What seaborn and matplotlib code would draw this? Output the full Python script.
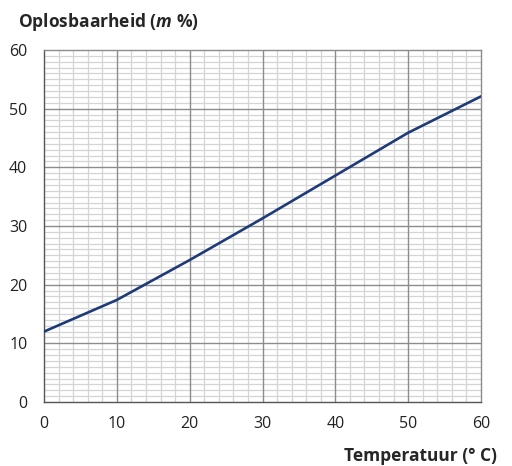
import seaborn as sns
import matplotlib.pyplot as plt
from matplotlib.ticker import MultipleLocator
import pandas as pd

# temperatuur en oplosbaarheid
temperatuur = [0, 10, 20, 30, 40, 50, 60]
oplosbaarheid = [12.0, 17.4, 24.2, 31.3, 38.6, 45.9, 52.1]

df = pd.DataFrame({'T': temperatuur, 'm': oplosbaarheid})

sns.set_theme(style='white')
plt.rcParams['font.family'] = ['Open Sans', 'DejaVu Sans']
plt.rcParams['mathtext.fontset'] = 'custom'
plt.rcParams['mathtext.it'] = 'Open Sans:italic:bold'
plt.rcParams['mathtext.rm'] = 'Open Sans:bold'

fig = plt.figure(figsize=(5.12, 4.66), dpi=100)
ax = fig.add_axes([0.0859, 0.1373, 0.8536, 0.7554])

ax.set_xlim(0, 60)
ax.set_ylim(0, 60)
ax.xaxis.set_major_locator(MultipleLocator(10))
ax.yaxis.set_major_locator(MultipleLocator(10))
ax.xaxis.set_minor_locator(MultipleLocator(2))
ax.yaxis.set_minor_locator(MultipleLocator(1))
ax.grid(which='minor', color='#d4d4d4', linewidth=0.9)
ax.set_axisbelow(True)

# hoofdrasterlijnen boven het fijne raster
for v in range(10, 60, 10):
    ax.axvline(v, color='#8c8c8c', linewidth=1.0, zorder=1)
    ax.axhline(v, color='#8c8c8c', linewidth=1.0, zorder=1)

sns.lineplot(data=df, x='T', y='m', ax=ax, color='#1f3a78', linewidth=1.9, zorder=3)

for s in ax.spines.values():
    s.set_color('#8c8c8c')
    s.set_linewidth(1.0)
    s.set_zorder(2)
ax.spines['left'].set_color('#555555')
ax.spines['bottom'].set_color('#555555')
ax.tick_params(which='both', length=0, labelsize=11.5, colors='#222222')
ax.tick_params(axis='y', pad=12)
ax.tick_params(axis='x', pad=10)
ax.set_xlabel('')
ax.set_ylabel('')

fig.text(18 / 512, 1 - 22 / 466, r'Oplosbaarheid ($m$ %)', fontsize=12.5,
         fontweight='bold', va='center', ha='left')
fig.text(497 / 512, 1 - 456 / 466, 'Temperatuur (° C)', fontsize=12.5,
         fontweight='bold', va='center', ha='right')

plt.savefig('out.png', dpi=100)
